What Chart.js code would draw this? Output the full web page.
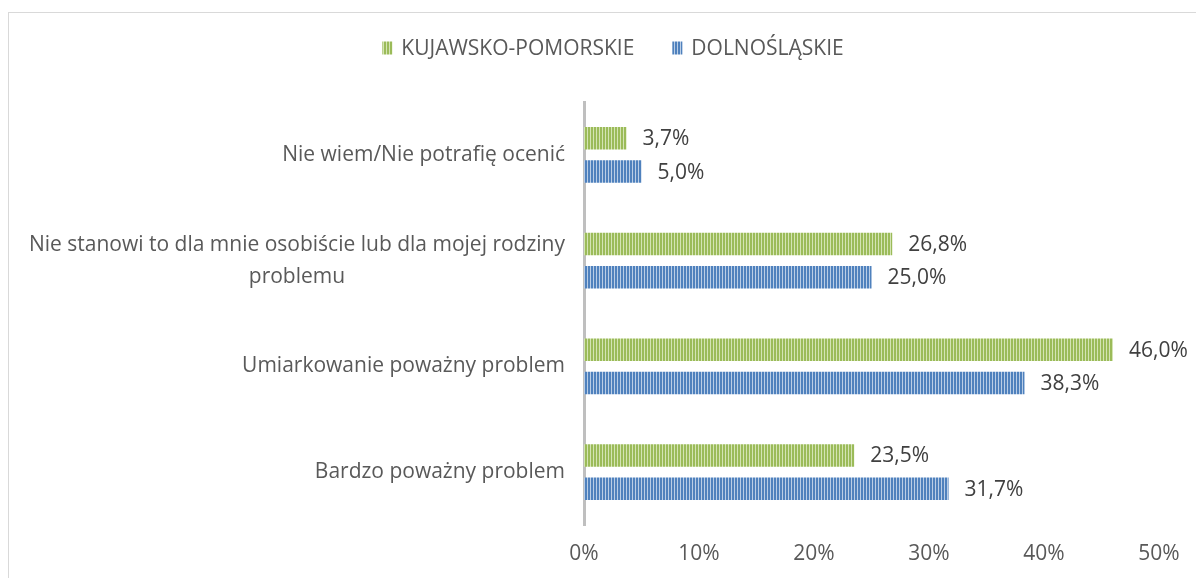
<!DOCTYPE html>
<html>
<head>
<meta charset="utf-8">
<script src="https://cdn.jsdelivr.net/npm/chart.js@4.4.1/dist/chart.umd.min.js"></script>
<style>
  html, body { margin: 0; padding: 0; background: #ffffff; }
  #wrap { position: relative; width: 1196px; height: 578px; overflow: hidden; }
  #frame { position: absolute; left: 8px; top: 12px; width: 1400px; height: 800px; border: 1px solid #d9d9d9; box-sizing: border-box; }
  canvas { position: absolute; left: 0; top: 0; }
</style>
</head>
<body>
<div id="wrap">
  <div id="frame"></div>
  <canvas id="c" width="1196" height="578"></canvas>
</div>
<script>
const categories = [
  ["Nie wiem/Nie potrafię ocenić"],
  ["Nie stanowi to dla mnie osobiście lub dla mojej rodziny", "problemu"],
  ["Umiarkowanie poważny problem"],
  ["Bardzo poważny problem"]
];
const seriesNames = ["KUJAWSKO-POMORSKIE", "DOLNOŚLĄSKIE"];
const kujawskoPomorskie = [3.7, 26.8, 46.0, 23.5];
const dolnoslaskie = [5.0, 25.0, 38.3, 31.7];
const xTicks = [0, 10, 20, 30, 40, 50];

const FONT = "'Open Sans', 'DejaVu Sans', sans-serif";
const FONT_SIZE = 21;

function stripes(dark, light) {
  const c = document.createElement('canvas');
  c.width = 3; c.height = 1;
  const g = c.getContext('2d');
  g.fillStyle = dark; g.fillRect(0, 0, 2, 1);
  g.fillStyle = light; g.fillRect(2, 0, 1, 1);
  return g.createPattern(c, 'repeat');
}
const ctx = document.getElementById('c').getContext('2d');
const greenPat = stripes('#9bbb59', '#d4e4b4');
const bluePat = stripes('#4f81bd', '#b9cde6');
const legendPats = [greenPat, bluePat];

const fmt = v => v.toFixed(1).replace('.', ',') + '%';

const dataLabels = {
  id: 'dataLabels',
  afterDatasetsDraw(chart) {
    const c = chart.ctx;
    c.save();
    c.font = FONT_SIZE + 'px ' + FONT;
    c.fillStyle = '#404040';
    c.textBaseline = 'middle';
    c.textAlign = 'left';
    chart.data.datasets.forEach((ds, i) => {
      chart.getDatasetMeta(i).data.forEach((bar, j) => {
        c.fillText(fmt(ds.data[j]), bar.x + 16, bar.y + 1);
      });
    });
    c.restore();
  }
};

const catLabels = {
  id: 'catLabels',
  afterDraw(chart) {
    const c = chart.ctx;
    const y = chart.scales.y;
    const right = 565;
    const lh = 32;
    c.save();
    c.font = FONT_SIZE + 'px ' + FONT;
    c.fillStyle = '#595959';
    c.textBaseline = 'middle';
    c.textAlign = 'center';
    categories.forEach((lines, i) => {
      const cy = y.getPixelForValue(i);
      const maxW = Math.max(...lines.map(l => c.measureText(l).width));
      const cx = right - maxW / 2;
      const y0 = cy - (lines.length - 1) * lh / 2;
      lines.forEach((l, k) => c.fillText(l, cx, y0 + k * lh));
    });
    c.restore();
  }
};

const customLegend = {
  id: 'customLegend',
  afterDraw(chart) {
    const c = chart.ctx;
    c.save();
    c.font = FONT_SIZE + 'px ' + FONT;
    c.textBaseline = 'middle';
    c.textAlign = 'left';
    const boxW = 10, boxH = 13, gapText = 9, gapItem = 38;
    const widths = seriesNames.map(n => boxW + gapText + c.measureText(n).width);
    const total = widths.reduce((a, b) => a + b, 0) + gapItem * (seriesNames.length - 1);
    let x = 613 - total / 2;
    const cy = 48;
    seriesNames.forEach((n, i) => {
      c.fillStyle = legendPats[i];
      c.fillRect(x, cy - boxH / 2, boxW, boxH);
      c.fillStyle = '#595959';
      c.fillText(n, x + boxW + gapText, cy + 1);
      x += widths[i] + gapItem;
    });
    c.restore();
  }
};

new Chart(ctx, {
  type: 'bar',
  data: {
    labels: categories,
    datasets: [
      { label: seriesNames[0], data: kujawskoPomorskie, backgroundColor: greenPat, borderWidth: 0 },
      { label: seriesNames[1], data: dolnoslaskie, backgroundColor: bluePat, borderWidth: 0 }
    ]
  },
  options: {
    indexAxis: 'y',
    responsive: false,
    animation: false,
    devicePixelRatio: 1,
    categoryPercentage: 0.63,
    barPercentage: 0.68,
    layout: { padding: { top: 102, right: 37, left: 0, bottom: 0 } },
    plugins: {
      legend: { display: false },
      tooltip: { enabled: false }
    },
    scales: {
      x: {
        min: 0, max: 50,
        afterBuildTicks(scale) { scale.ticks = xTicks.map(v => ({ value: v })); },
        grid: { display: false, drawTicks: false },
        border: { display: false },
        ticks: {
          padding: 16,
          color: '#595959',
          font: { family: FONT, size: FONT_SIZE },
          callback: v => v + '%'
        },
        afterFit(scale) { scale.height = 53; }
      },
      y: {
        grid: { display: false, drawTicks: false },
        border: { display: true, color: '#bfbfbf', width: 3 },
        ticks: { display: false },
        afterFit(scale) { scale.width = 584; }
      }
    }
  },
  plugins: [dataLabels, catLabels, customLegend]
});
</script>
</body>
</html>
